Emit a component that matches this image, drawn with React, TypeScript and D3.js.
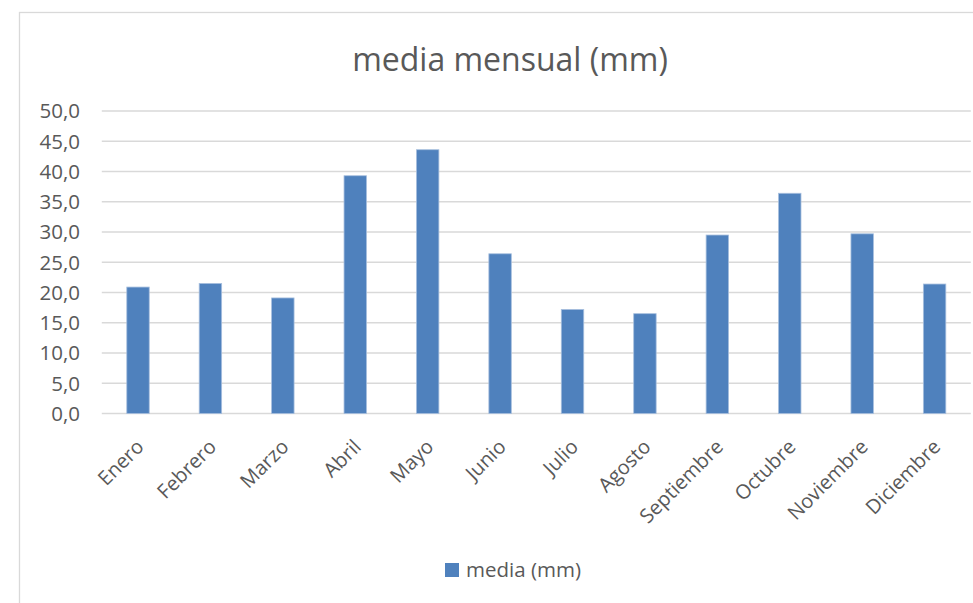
import React from "react";
import * as d3 from "d3";

const months = ["Enero","Febrero","Marzo","Abril","Mayo","Junio","Julio","Agosto","Septiembre","Octubre","Noviembre","Diciembre"];
const media = [20.9, 21.5, 19.1, 39.3, 43.6, 26.4, 17.2, 16.5, 29.5, 36.4, 29.7, 21.4];
const yTicks = [0, 5, 10, 15, 20, 25, 30, 35, 40, 45, 50];
const title = "media mensual (mm)";
const seriesName = "media (mm)";

const W = 973, H = 603;
const FONT = "'Open Sans', 'Noto Sans', sans-serif";

export default function App() {
  const x = d3.scaleBand<string>().domain(months).range([101.8, 970.8]).paddingInner(0.69).paddingOuter(0.345);
  const y = d3.scaleLinear().domain([0, 50]).range([413.5, 111]);
  const fmt = (v: number) => v.toFixed(1).replace(".", ",");
  return (
    <svg width={W} height={H} style={{ position: "absolute", left: 0, top: 0, background: "#fff" }} fontFamily={FONT}>
      <rect x={19.5} y={12.5} width={1000} height={1000} fill="#fff" stroke="#d9d9d9" strokeWidth={1.3} />
      <text x={510} y={71} textAnchor="middle" fontSize={32} fill="#595959">{title}</text>
      {yTicks.map(t => (
        <g key={t}>
          <line x1={101.8} x2={970.8} y1={y(t)} y2={y(t)} stroke="#d9d9d9" strokeWidth={1.3} />
          <text x={80} y={y(t)} dy="0.36em" textAnchor="end" fontSize={20.5} fill="#595959">{fmt(t)}</text>
        </g>
      ))}
      {months.map((m, i) => (
        <rect key={m} x={x(m)} y={y(media[i])} width={x.bandwidth()} height={y(0) - y(media[i])}
          fill="#4f81bd" stroke="#a7bfde" strokeWidth={0.8} />
      ))}
      {months.map(m => {
        const cx = (x(m) as number) + x.bandwidth() / 2;
        const ax = cx + 2, ay = 443;
        return (
          <text key={m} transform={`translate(${ax},${ay}) rotate(-45)`} textAnchor="end" dy="0.36em"
            fontSize={20} fill="#595959">{m}</text>
        );
      })}
      <rect x={445} y={563} width={14} height={14} fill="#4f81bd" />
      <text x={466} y={577} fontSize={20.5} fill="#595959">{seriesName}</text>
    </svg>
  );
}
